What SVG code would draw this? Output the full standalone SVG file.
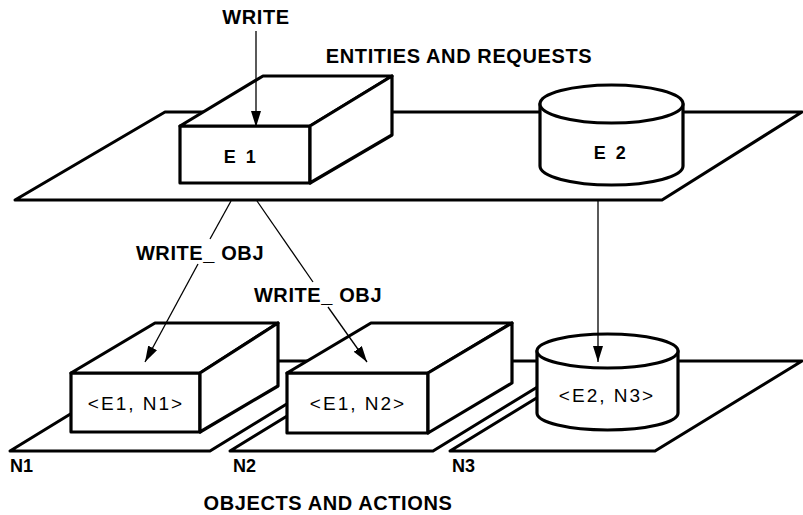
<svg xmlns="http://www.w3.org/2000/svg" width="803" height="515" viewBox="0 0 803 515">
<defs>
<style>
.pl{fill:#fff;stroke:#000;stroke-width:3;stroke-linejoin:round}
.sh{fill:#fff;stroke:#000;stroke-width:3.2;stroke-linejoin:round}
.ln{fill:none;stroke:#000;stroke-width:1.3}
.t{font-family:"Liberation Sans",Arial,sans-serif;font-weight:bold;fill:#000}
.big{font-size:20px;letter-spacing:0.6px}
.lbl{font-size:19px;letter-spacing:2px;font-weight:normal}
.el{font-size:18px;letter-spacing:2.5px}
.bl{font-size:18px}
</style>
<marker id="ah" viewBox="0 0 16 10" refX="16" refY="5" markerWidth="16" markerHeight="10" markerUnits="userSpaceOnUse" orient="auto">
<path d="M0,0 L16,5 L0,10 Z" fill="#000"/>
</marker>
</defs>
<g id="plane-top">
<polygon class="pl" points="15,200 165,112 802,112 662,200"/>
</g>
<g id="plane-n1">
<polygon class="pl" points="10,451 157,361 357,361 210,451"/>
<text class="t bl" x="10" y="472">N1</text>
</g>
<g id="plane-n2">
<polygon class="pl" points="230,451 377,361 580,361 433,451"/>
<text class="t bl" x="233" y="472">N2</text>
</g>
<g id="plane-n3">
<polygon class="pl" points="450,451 597,361 802,361 655,451"/>
<text class="t bl" x="452" y="472">N3</text>
</g>
<g id="e1">
<polygon class="sh" points="180,126 310,126 310,183 180,183"/>
<polygon class="sh" points="180,126 263,76 392,76 310,126"/>
<polygon class="sh" points="310,126 392,76 392,135 310,183"/>
<text class="t el" x="241" y="163" text-anchor="middle">E 1</text>
</g>
<g id="e2">
<path class="sh" d="M540,104 L540,166 A71.5,19 0 0 0 683,166 L683,104 Z"/>
<ellipse class="sh" cx="611.5" cy="104" rx="71.5" ry="19"/>
<text class="t el" x="611" y="159" text-anchor="middle">E 2</text>
</g>
<g id="e1n1">
<polygon class="sh" points="71,373 200,373 200,432 71,432"/>
<polygon class="sh" points="71,373 155,323 278,323 200,373"/>
<polygon class="sh" points="200,373 278,323 278,386 200,432"/>
<text class="t lbl" x="136" y="410" text-anchor="middle">&lt;E1, N1&gt;</text>
</g>
<g id="e1n2">
<polygon class="sh" points="287,373 428,373 428,433 287,433"/>
<polygon class="sh" points="287,373 371,323 512,323 428,373"/>
<polygon class="sh" points="428,373 512,323 512,383 428,433"/>
<text class="t lbl" x="358" y="410" text-anchor="middle">&lt;E1, N2&gt;</text>
</g>
<g id="e2n3">
<path class="sh" d="M537,351 L537,413 A70.5,17 0 0 0 678,413 L678,351 Z"/>
<ellipse class="sh" cx="607.5" cy="351" rx="70.5" ry="17"/>
<text class="t lbl" x="607" y="402" text-anchor="middle">&lt;E2, N3&gt;</text>
</g>
<g id="connectors">
<line class="ln" x1="256" y1="31" x2="256" y2="127" marker-end="url(#ah)"/>
<line class="ln" x1="231" y1="201" x2="210" y2="239"/>
<line class="ln" x1="198" y1="264" x2="145" y2="362" marker-end="url(#ah)"/>
<line class="ln" x1="257" y1="201" x2="313" y2="282"/>
<line class="ln" x1="328" y1="307" x2="367" y2="362" marker-end="url(#ah)"/>
<line class="ln" x1="598" y1="201" x2="598" y2="362" marker-end="url(#ah)"/>
</g>
<g id="labels">
<text class="t big" x="256" y="24" text-anchor="middle">WRITE</text>
<text class="t big" x="459" y="63" text-anchor="middle">ENTITIES AND REQUESTS</text>
<text class="t big" x="200" y="260" text-anchor="middle">WRITE_ OBJ</text>
<text class="t big" x="318" y="302" text-anchor="middle">WRITE_ OBJ</text>
<text class="t big" x="328" y="510" text-anchor="middle">OBJECTS AND ACTIONS</text>
</g>
</svg>
